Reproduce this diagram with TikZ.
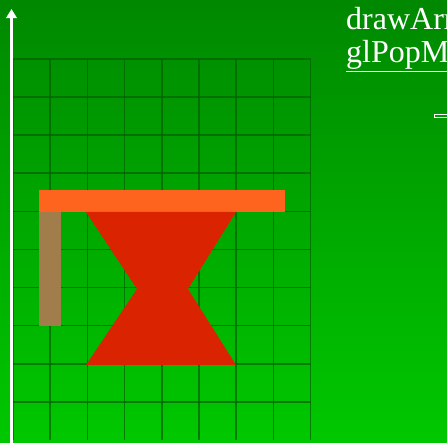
\documentclass[tikz,border=0pt]{standalone}
\usepackage{fontspec}
\setmainfont{Liberation Serif}
\usetikzlibrary{arrows.meta}

\definecolor{bgtop}{RGB}{0,136,0}
\definecolor{bgbot}{RGB}{0,200,0}
\definecolor{gridline}{RGB}{0,100,0}
\definecolor{bar}{RGB}{255,100,30}
\definecolor{post}{RGB}{160,125,75}
\definecolor{glass}{RGB}{218,35,0}

\begin{document}
\begin{tikzpicture}[
  x=1pt, y=-1pt,
  >=Triangle,
  every node/.style={font=\fontsize{32}{36}\selectfont, text=white, inner sep=0pt},
  cell/.style={gridline, line width=1.6pt, opacity=0.75},
  axis/.style={->, white, line width=2.2pt},
]

%% ── Background ────────────────────────────────────────────────────────────
\useasboundingbox (0,0) rectangle (447,443);
\clip (0,0) rectangle (447,443);
\shade[top color=bgtop, bottom color=bgbot] (0,0) rectangle (447,443);

%% ── Grid ──────────────────────────────────────────────────────────────────
\foreach \i in {0,...,8}
  \draw[cell] (13+37.2*\i, 59) -- (13+37.2*\i, 440);
\foreach \j in {0,...,9}
  \draw[cell] (13, 59+38.1*\j) -- (311, 59+38.1*\j);

%% ── Axis ──────────────────────────────────────────────────────────────────
\coordinate (axbot) at (11.5, 443);
\coordinate (axtop) at (11.5, 9);
\draw[axis] (axbot) -- (axtop);

%% ── Shapes ────────────────────────────────────────────────────────────────
\fill[bar]  (39,190) rectangle (285,212);
\fill[post] (39,212) rectangle (61,326.5);
\fill[glass] (86,212) -- (236,212) -- (188,289) -- (236,365)
  -- (86,365) -- (137,289) -- cycle;

%% ── Text ──────────────────────────────────────────────────────────────────
\node[anchor=base west] (call1) at (346,29.5) {drawArr};
\node[anchor=base west] (call2) at (346,63) {\underline{glPopM}};
\draw[white, line width=0.9pt] (434.5,114.5) rectangle (450,117);

\end{tikzpicture}
\end{document}
